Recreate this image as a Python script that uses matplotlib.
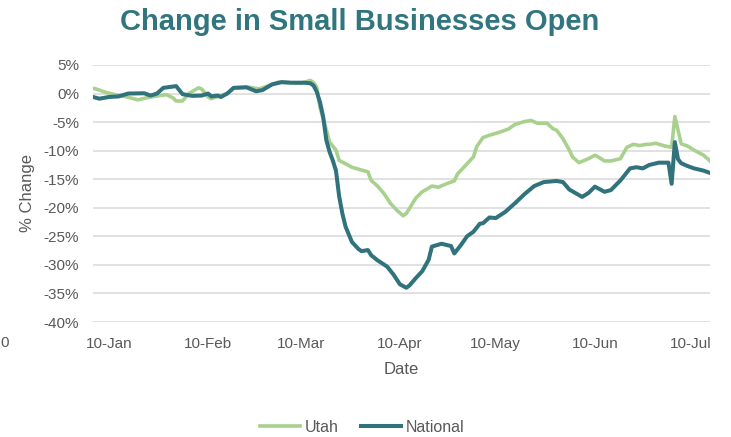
import pandas as pd
import matplotlib.pyplot as plt
import matplotlib.dates as mdates
from matplotlib.ticker import MultipleLocator, FuncFormatter

UTAH_COLOR = "#a9d18e"
NATIONAL_COLOR = "#31737c"
TITLE_COLOR = "#31767f"
TEXT_COLOR = "#595959"

# Utah series (% change vs baseline)
utah_dates = [
    "2020-01-05", "2020-01-06", "2020-01-09", "2020-01-12", "2020-01-15", "2020-01-19",
    "2020-01-23", "2020-01-26", "2020-01-28", "2020-01-30", "2020-01-31", "2020-02-02",
    "2020-02-04", "2020-02-07", "2020-02-08", "2020-02-10", "2020-02-11", "2020-02-14",
    "2020-02-16", "2020-02-18", "2020-02-23", "2020-02-26", "2020-02-29", "2020-03-03",
    "2020-03-10", "2020-03-13", "2020-03-14", "2020-03-15", "2020-03-16", "2020-03-18",
    "2020-03-19", "2020-03-21", "2020-03-22", "2020-03-24", "2020-03-26", "2020-03-29",
    "2020-03-31", "2020-04-01", "2020-04-03", "2020-04-05", "2020-04-07", "2020-04-09",
    "2020-04-11", "2020-04-12", "2020-04-13", "2020-04-15", "2020-04-17", "2020-04-20",
    "2020-04-22", "2020-04-25", "2020-04-27", "2020-04-28", "2020-05-01", "2020-05-03",
    "2020-05-04", "2020-05-06", "2020-05-08", "2020-05-11", "2020-05-14", "2020-05-16",
    "2020-05-19", "2020-05-21", "2020-05-23", "2020-05-26", "2020-05-28", "2020-05-29",
    "2020-05-31", "2020-06-02", "2020-06-03", "2020-06-05", "2020-06-08", "2020-06-10",
    "2020-06-11", "2020-06-13", "2020-06-15", "2020-06-18", "2020-06-20", "2020-06-22",
    "2020-06-24", "2020-06-26", "2020-06-27", "2020-06-29", "2020-07-02", "2020-07-04",
    "2020-07-05", "2020-07-07", "2020-07-09", "2020-07-11", "2020-07-14", "2020-07-16",
]
utah_values = [
    0.9, 0.8, 0.2, -0.2, -0.5, -1.1,
    -0.6, -0.35, -0.2, -0.75, -1.3, -1.3,
    0.0, 1.0, 0.8, -0.6, -0.9, -0.35,
    0.0, 1.0, 1.1, 0.8, 1.4, 2.0,
    1.8, 2.3, 1.9, 1.1, -2.4, -6.4,
    -8.5, -9.9, -11.7, -12.3, -12.9, -13.4,
    -13.7, -15.2, -16.2, -17.5, -19.2, -20.4,
    -21.4, -21.0, -20.1, -18.3, -17.2, -16.2,
    -16.4, -15.7, -15.3, -14.1, -12.3, -11.1,
    -9.3, -7.7, -7.3, -6.8, -6.2, -5.4,
    -4.9, -4.7, -5.2, -5.2, -6.2, -6.4,
    -7.9, -9.9, -11.1, -12.1, -11.4, -10.8,
    -11.1, -11.8, -11.8, -11.4, -9.4, -8.9,
    -9.1, -8.9, -8.9, -8.7, -9.2, -9.4,
    -4.0, -8.8, -9.2, -9.9, -10.8, -11.8,
]

# National series (% change vs baseline)
national_dates = [
    "2020-01-05", "2020-01-06", "2020-01-07", "2020-01-10", "2020-01-13", "2020-01-16",
    "2020-01-21", "2020-01-23", "2020-01-25", "2020-01-27", "2020-01-31", "2020-02-02",
    "2020-02-05", "2020-02-08", "2020-02-10", "2020-02-11", "2020-02-13", "2020-02-14",
    "2020-02-16", "2020-02-18", "2020-02-22", "2020-02-25", "2020-02-27", "2020-03-01",
    "2020-03-04", "2020-03-07", "2020-03-11", "2020-03-13", "2020-03-14", "2020-03-15",
    "2020-03-16", "2020-03-17", "2020-03-18", "2020-03-19", "2020-03-20", "2020-03-21",
    "2020-03-22", "2020-03-23", "2020-03-24", "2020-03-26", "2020-03-28", "2020-03-29",
    "2020-03-31", "2020-04-01", "2020-04-03", "2020-04-06", "2020-04-08", "2020-04-10",
    "2020-04-12", "2020-04-13", "2020-04-15", "2020-04-17", "2020-04-19", "2020-04-20",
    "2020-04-23", "2020-04-26", "2020-04-27", "2020-04-29", "2020-05-01", "2020-05-03",
    "2020-05-05", "2020-05-06", "2020-05-08", "2020-05-10", "2020-05-13", "2020-05-16",
    "2020-05-19", "2020-05-22", "2020-05-25", "2020-05-29", "2020-05-31", "2020-06-02",
    "2020-06-06", "2020-06-08", "2020-06-10", "2020-06-13", "2020-06-15", "2020-06-18",
    "2020-06-21", "2020-06-23", "2020-06-25", "2020-06-27", "2020-06-30", "2020-07-03",
    "2020-07-04", "2020-07-05", "2020-07-06", "2020-07-07", "2020-07-09", "2020-07-11",
    "2020-07-14", "2020-07-16",
]
national_values = [
    -0.6, -0.75, -0.9, -0.6, -0.5, 0.0,
    0.05, -0.35, 0.0, 1.0, 1.3, -0.1,
    -0.4, -0.35, 0.0, -0.5, -0.35, -0.6,
    0.0, 1.0, 1.1, 0.4, 0.6, 1.6,
    2.0, 1.9, 1.9, 1.8, 1.4, 0.3,
    -1.5, -4.1, -8.2, -10.2, -11.7, -13.5,
    -18.0, -21.0, -23.3, -26.0, -27.2, -27.6,
    -27.4, -28.3, -29.2, -30.3, -31.7, -33.4,
    -34.0, -33.6, -32.3, -31.1, -29.1, -26.8,
    -26.3, -26.7, -28.0, -26.6, -25.0, -24.2,
    -22.8, -22.7, -21.7, -21.8, -20.7, -19.2,
    -17.6, -16.2, -15.5, -15.3, -15.5, -16.8,
    -18.1, -17.4, -16.3, -17.2, -16.9, -15.2,
    -13.1, -12.9, -13.1, -12.5, -12.1, -12.1,
    -15.8, -8.5, -11.5, -12.2, -12.7, -13.1,
    -13.5, -13.9,
]

x_ticks = ["2020-01-10", "2020-02-10", "2020-03-10", "2020-04-10",
           "2020-05-10", "2020-06-10", "2020-07-10"]


def main():
    plt.rcParams["font.family"] = ["Liberation Sans", "DejaVu Sans"]

    utah = pd.Series(utah_values, index=pd.to_datetime(utah_dates))
    national = pd.Series(national_values, index=pd.to_datetime(national_dates))

    fig = plt.figure(figsize=(7.31, 4.37), dpi=100)
    ax = fig.add_axes([93 / 731, 1 - 322 / 437, 617 / 731, 257 / 437])

    ax.plot(utah.index, utah.values, color=UTAH_COLOR, lw=2.6, label="Utah",
            solid_joinstyle="round", zorder=3)
    ax.plot(national.index, national.values, color=NATIONAL_COLOR, lw=2.9, label="National",
            solid_joinstyle="round", zorder=4)

    ax.set_xlim(pd.Timestamp("2020-01-05"), pd.Timestamp("2020-07-16"))
    ax.set_ylim(-40, 5)
    ax.yaxis.set_major_locator(MultipleLocator(5))
    ax.yaxis.set_major_formatter(FuncFormatter(lambda v, p: f"{v:.0f}%"))
    ax.set_xticks(pd.to_datetime(x_ticks))
    ax.xaxis.set_major_formatter(mdates.DateFormatter("%d-%b"))

    ax.grid(True, axis="y", color="#d9d9d9", lw=1.1)
    ax.set_axisbelow(True)
    for side in ["top", "right", "left", "bottom"]:
        ax.spines[side].set_visible(False)
    ax.tick_params(length=0, labelsize=11, colors=TEXT_COLOR)
    ax.tick_params(axis="x", pad=11)
    ax.tick_params(axis="y", pad=10)

    ax.set_xlabel("Date", fontsize=12, color=TEXT_COLOR, labelpad=8)
    ax.set_ylabel("% Change", fontsize=12, color=TEXT_COLOR, labelpad=6)

    fig.text(360 / 731, 1 - 22 / 437, "Change in Small Businesses Open",
             ha="center", va="center", fontsize=21, fontweight="bold",
             color=TITLE_COLOR)
    # stray label at the far left of the x axis
    fig.text(0.5 / 731, 1 - 343 / 437, "0", ha="left", va="center",
             fontsize=11, color=TEXT_COLOR)

    fig.legend(loc="center", bbox_to_anchor=(362 / 731, 1 - 427 / 437), ncol=2,
               frameon=False, fontsize=11.5, handlelength=2.5, handletextpad=0.3,
               columnspacing=1.4, labelcolor=TEXT_COLOR)

    fig.savefig("out.png", dpi=100)


if __name__ == "__main__":
    main()
